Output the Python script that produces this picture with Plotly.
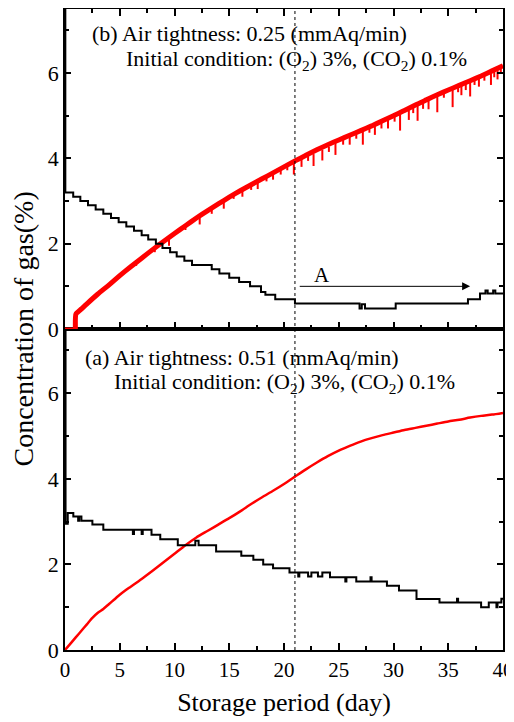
import plotly.graph_objects as go

# ---------------- data ----------------
# Top panel (b): air tightness 0.25 mmAq/min
b_co2_day = [0, 0.95, 1.0, 1.5, 2, 3, 4, 5, 6, 7, 8, 9, 10, 11, 12, 13, 14, 15, 16, 17, 18, 19, 20,
             21, 22, 23, 24, 25, 26, 27, 28, 29, 30, 31, 32, 33, 34, 35, 36, 37, 38, 39, 40]
b_co2 = [0, 0, 0.35, 0.47, 0.59, 0.82, 1.03, 1.25, 1.46, 1.66, 1.86, 2.05, 2.24, 2.42, 2.6, 2.77, 2.93,
         3.09, 3.24, 3.38, 3.52, 3.66, 3.8, 3.94, 4.07, 4.2, 4.32, 4.43, 4.54, 4.65, 4.76, 4.88, 5.0,
         5.12, 5.25, 5.37, 5.49, 5.6, 5.71, 5.82, 5.93, 6.05, 6.17]
# short downward spikes of the noisy CO2 record (day, top, bottom)
b_dip_day = [6.5, 8.2, 9.5, 11.0, 12.3, 13.4, 14.5, 15.4, 16.2, 17.0, 17.6, 18.4, 19.0, 19.7, 20.3,
             20.9, 21.6, 22.2, 22.7, 23.5, 24.1, 24.7, 25.4, 26.0, 26.6, 27.2, 27.8, 28.3, 28.9,
             29.5, 30.1, 30.6, 31.4, 31.8, 32.2, 32.7, 33.2, 34.0, 34.6, 35.4, 35.9, 36.2, 36.6,
             37.0, 37.4, 37.8, 38.3, 38.9, 39.2, 39.5, 39.8]
b_dip_top = [1.56, 1.9, 2.1, 2.42, 2.62, 2.82, 3.0, 3.15, 3.27, 3.38, 3.46, 3.58, 3.66, 3.76, 3.84,
             3.92, 4.0, 4.06, 4.1, 4.2, 4.27, 4.38, 4.44, 4.5, 4.58, 4.64, 4.72, 4.76, 4.83,
             4.92, 4.99, 5.05, 5.13, 5.2, 5.25, 5.3, 5.38, 5.48, 5.55, 5.63, 5.68, 5.72, 5.76,
             5.83, 5.86, 5.9, 5.96, 6.02, 6.06, 6.1, 6.14]
b_dip_low = [1.48, 1.8, 1.95, 2.32, 2.45, 2.7, 2.82, 3.05, 3.1, 3.26, 3.28, 3.46, 3.5, 3.62, 3.72,
             3.62, 3.8, 3.94, 3.82, 3.95, 4.15, 4.08, 4.32, 4.32, 4.46, 4.32, 4.6, 4.55, 4.7,
             4.7, 4.86, 4.65, 4.9, 5.06, 4.88, 5.16, 5.15, 5.08, 5.42, 5.2, 5.55, 5.48, 5.6,
             5.45, 5.72, 5.68, 5.82, 5.72, 5.9, 5.85, 6.0]

b_o2_day = [0, 0.03, 0.75, 1.4, 2.1, 2.8, 3.5, 4.2, 4.9, 5.6, 6.3, 7.0, 7.6, 8.3, 8.9, 9.6, 10.2, 10.9,
            11.6, 13.4, 14.1, 15.0, 15.9, 16.9, 17.9, 18.3, 19.2, 21.0, 26.9, 27.1, 27.4, 30.2,
            36.8, 37.9, 38.4, 38.6, 39.1, 39.3, 40]
b_o2 = [7.5, 3.2, 3.1, 3.0, 2.9, 2.8, 2.7, 2.6, 2.5, 2.4, 2.3, 2.2, 2.1, 2.0, 1.9, 1.8, 1.7, 1.6,
        1.5, 1.4, 1.3, 1.2, 1.1, 1.0, 0.87, 0.8, 0.7, 0.6, 0.48, 0.58, 0.48, 0.6,
        0.7, 0.83, 0.9, 0.83, 0.9, 0.83, 0.83]

# Bottom panel (a): air tightness 0.51 mmAq/min
a_co2_day = [0, 0.5, 1, 1.5, 2, 2.5, 3, 3.5, 4, 4.5, 5, 5.5, 6, 7, 8, 9, 10, 11, 12, 13, 14, 15, 16,
             17, 18, 19, 20, 21, 22, 23, 24, 25, 26, 27, 28, 29, 30, 31, 32, 33, 34, 35, 36, 37,
             38, 39, 40]
a_co2 = [0, 0.15, 0.3, 0.45, 0.6, 0.75, 0.87, 0.96, 1.07, 1.18, 1.29, 1.39, 1.48, 1.66, 1.85, 2.05,
         2.25, 2.45, 2.63, 2.78, 2.93, 3.08, 3.24, 3.41, 3.57, 3.72, 3.88, 4.05, 4.22, 4.38, 4.53,
         4.66, 4.77, 4.87, 4.95, 5.02, 5.08, 5.14, 5.19, 5.24, 5.29, 5.34, 5.38, 5.43, 5.47, 5.5, 5.54]

a_o2_day = [0, 0.05, 0.25, 0.76, 1.2, 1.3, 1.5, 2.5, 3.5, 6.2, 6.3, 7.0, 7.1, 7.9, 8.7, 10.3, 11.9,
            12.2, 13.8, 16.1, 17.2, 18.1, 19.0, 20.5, 21.3, 21.4, 22.2, 22.5, 23.1, 23.5, 24.2,
            25.6, 25.7, 26.6, 27.9, 28.0, 29.4, 30.5, 32.1, 34.2, 35.8, 35.9, 38.0, 38.7, 39.4,
            39.5, 39.85, 40]
a_o2 = [7.5, 2.95, 3.2, 3.12, 3.02, 3.12, 3.02, 2.93, 2.81, 2.71, 2.81, 2.71, 2.81, 2.69, 2.59, 2.45,
        2.55, 2.45, 2.3, 2.2, 2.11, 2.0, 1.91, 1.81, 1.72, 1.81, 1.72, 1.81, 1.72, 1.81, 1.7,
        1.6, 1.7, 1.6, 1.7, 1.6, 1.5, 1.39, 1.19, 1.11, 1.2, 1.11, 1.0, 1.11, 1.0,
        1.11, 1.2, 1.2]

marker_day = 21
arrow_start, arrow_end, arrow_level = 21.3, 37.0, 1.0

x_major = [0, 5, 10, 15, 20, 25, 30, 35, 40]
x_minor = [2.5, 7.5, 12.5, 17.5, 22.5, 27.5, 32.5, 37.5]
y_major = [0, 2, 4, 6]
y_minor = [1, 3, 5, 7]

# ---------------- figure ----------------
FONT = "Liberation Serif"
fig = go.Figure()

dip_x, dip_y = [], []
for d, t, l in zip(b_dip_day, b_dip_top, b_dip_low):
    dip_x += [d, d, None]
    dip_y += [t, l, None]

fig.add_trace(go.Scatter(x=b_co2_day[:2], y=b_co2[:2], mode="lines", xaxis="x2", yaxis="y2",
                         line=dict(color="#ff0000", width=3)))
fig.add_trace(go.Scatter(x=b_co2_day[1:], y=b_co2[1:], mode="lines", xaxis="x2", yaxis="y2",
                         line=dict(color="#ff0000", width=5, shape="spline", smoothing=0.5)))
fig.add_trace(go.Scatter(x=dip_x, y=dip_y, mode="lines", xaxis="x2", yaxis="y2",
                         line=dict(color="#ff0000", width=2)))
fig.add_trace(go.Scatter(x=b_o2_day, y=b_o2, mode="lines", xaxis="x2", yaxis="y2",
                         line=dict(color="black", width=2, shape="hv")))

fig.add_trace(go.Scatter(x=a_co2_day, y=a_co2, mode="lines", xaxis="x", yaxis="y",
                         line=dict(color="#ff0000", width=2.5, shape="spline", smoothing=0.6)))
fig.add_trace(go.Scatter(x=a_o2_day, y=a_o2, mode="lines", xaxis="x", yaxis="y",
                         line=dict(color="black", width=2, shape="hv")))

split = 321 / 641

axis_common = dict(showgrid=False, zeroline=False, showline=True, linecolor="black", linewidth=1.5,
                   ticks="inside", tickcolor="black", tickwidth=1.5)
x_minor_cfg = dict(tickvals=x_minor, ticklen=4, ticks="inside", tickcolor="black", tickwidth=1.5)
y_minor_cfg = dict(tickvals=y_minor, ticklen=4, ticks="inside", tickcolor="black", tickwidth=1.5)

# the page body adds an 8px offset; the figure is sized so the plot area lands where it should
fig.update_layout(
    width=506, height=714,
    margin=dict(l=57, r=11, t=1, b=72),
    plot_bgcolor="white", paper_bgcolor="white",
    showlegend=False,
    font=dict(family=FONT, color="black", size=21),
    xaxis=dict(domain=[0, 1], range=[0, 40], anchor="y", mirror=True,
               tickvals=x_major, ticklen=7, minor=x_minor_cfg,
               tickfont=dict(size=21), ticklabeloverflow="allow",
               title=dict(text="Storage period (day)", font=dict(size=26), standoff=12),
               automargin=False, **axis_common),
    yaxis=dict(domain=[0, split], range=[0, 7.5], anchor="x", mirror="ticks",
               tickvals=y_major, ticklen=6, minor=y_minor_cfg, automargin=False,
               tickfont=dict(size=22), **axis_common),
    xaxis2=dict(domain=[0, 1], range=[0, 40], anchor="y2", mirror="ticks", matches="x",
                showticklabels=False, tickvals=x_major, ticklen=7, minor=x_minor_cfg,
                automargin=False, **axis_common),
    yaxis2=dict(domain=[split, 1], range=[0, 7.5], anchor="x2", mirror="ticks",
                tickvals=y_major, ticklen=6, minor=y_minor_cfg, automargin=False,
                tickfont=dict(size=22), **axis_common),
)

fig.add_shape(type="line", xref="x", yref="paper", x0=marker_day, x1=marker_day, y0=0, y1=1,
              line=dict(color="black", width=1, dash="dot"))

ann_font = dict(family=FONT, size=22, color="black")
fig.add_annotation(x=2.28, y=6.93, xref="x2", yref="y2", xanchor="left", yanchor="middle",
                   text="(b) Air tightness: 0.25 (mmAq/min)", showarrow=False, font=ann_font)
fig.add_annotation(x=5.4, y=6.3, xref="x2", yref="y2", xanchor="left", yanchor="middle",
                   text="Initial condition: (O<sub>2</sub>) 3%, (CO<sub>2</sub>) 0.1%",
                   showarrow=False, font=ann_font)
fig.add_annotation(x=1.64, y=6.84, xref="x", yref="y", xanchor="left", yanchor="middle",
                   text="(a) Air tightness: 0.51 (mmAq/min)", showarrow=False, font=ann_font)
fig.add_annotation(x=4.3, y=6.25, xref="x", yref="y", xanchor="left", yanchor="middle",
                   text="Initial condition: (O<sub>2</sub>) 3%, (CO<sub>2</sub>) 0.1%",
                   showarrow=False, font=ann_font)

fig.add_annotation(x=arrow_end, y=arrow_level, ax=arrow_start, ay=arrow_level,
                   xref="x2", yref="y2", axref="x2", ayref="y2", text="", showarrow=True,
                   arrowhead=2, arrowsize=1.6, arrowwidth=1, arrowcolor="black")
fig.add_annotation(x=23.5, y=1.27, xref="x2", yref="y2", text="A", showarrow=False,
                   font=dict(family=FONT, size=21, color="black"))

fig.add_annotation(x=0, y=0.5, xref="paper", yref="paper", xanchor="center", yanchor="middle",
                   xshift=-42, textangle=-90, borderpad=0,
                   text="Concentration of gas(%)", showarrow=False,
                   font=dict(family=FONT, size=28, color="black"))

fig.write_html("out.html")
